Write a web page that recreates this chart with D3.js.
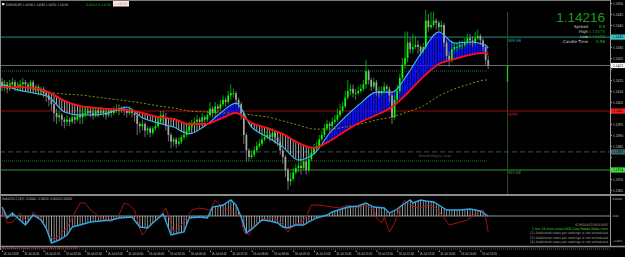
<!DOCTYPE html>
<html>
<head>
<meta charset="utf-8">
<script src="https://cdn.jsdelivr.net/npm/d3@7"></script>
<style>
  html, body { margin: 0; padding: 0; background: #000; }
  svg { display: block; font-family: 'DejaVu Sans', sans-serif; }
</style>
</head>
<body>
<div id="chart"></div>
<script>
// EURUSD M5 candles (open = previous close)
const firstOpen = 1.1414
const close = [
  1.1412,1.1413,1.1411,1.1413,1.1414,1.1412,1.1412,1.1413,1.1414,1.1413,
  1.1412,1.1414,1.1411,1.1412,1.1410,1.1411,1.1409,1.1408,1.1406,1.1404,
  1.1400,1.1398,1.1399,1.1397,1.1396,1.1397,1.1396,1.1398,1.1397,1.1399,
  1.1398,1.1400,1.1400,1.1401,1.1400,1.1399,1.1401,1.1400,1.1401,1.1400,
  1.1399,1.1401,1.1400,1.1401,1.1402,1.1401,1.1402,1.1401,1.1400,1.1401,
  1.1400,1.1399,1.1395,1.1394,1.1395,1.1392,1.1393,1.1391,1.1393,1.1394,
  1.1396,1.1399,1.1398,1.1394,1.1390,1.1387,1.1388,1.1386,1.1387,1.1389,
  1.1390,1.1392,1.1394,1.1395,1.1396,1.1397,1.1396,1.1398,1.1397,1.1399,
  1.1402,1.1400,1.1403,1.1402,1.1404,1.1406,1.1405,1.1408,1.1409,1.1409,
  1.1406,1.1404,1.1400,1.1390,1.1383,1.1380,1.1381,1.1383,1.1385,1.1386,
  1.1388,1.1389,1.1390,1.1389,1.1391,1.1389,1.1387,1.1383,1.1380,1.1374,
  1.1369,1.1370,1.1373,1.1375,1.1376,1.1375,1.1378,1.1374,1.1379,1.1382,
  1.1384,1.1385,1.1388,1.1390,1.1393,1.1395,1.1394,1.1396,1.1397,1.1399,
  1.1401,1.1403,1.1407,1.1410,1.1411,1.1409,1.1409,1.1410,1.1411,1.1413,
  1.1419,1.1415,1.1412,1.1414,1.1410,1.1409,1.1410,1.1412,1.1411,1.1408,
  1.1398,1.1406,1.1410,1.1416,1.1422,1.1425,1.1432,1.1429,1.1430,1.1431,
  1.1430,1.1428,1.1430,1.1442,1.1439,1.1440,1.1442,1.1441,1.1439,1.1440,
  1.1432,1.1426,1.1424,1.1429,1.1430,1.1430,1.1431,1.1431,1.1432,1.1434,
  1.1433,1.1432,1.1434,1.1435,1.1433,1.1430,1.1424,1.14216
]
const high = [
  1.1416,1.1415,1.1414,1.1415,1.1416,1.1415,1.1414,1.1415,1.1416,1.1415,
  1.1414,1.1415,1.1415,1.1413,1.1413,1.1412,1.1412,1.1410,1.1409,1.1407,
  1.1405,1.1402,1.1401,1.1400,1.1398,1.1399,1.1398,1.1399,1.1399,1.1401,
  1.1400,1.1403,1.1402,1.1403,1.1402,1.1401,1.1402,1.1402,1.1403,1.1402,
  1.1401,1.1402,1.1402,1.1403,1.1404,1.1404,1.1403,1.1403,1.1402,1.1403,
  1.1402,1.1401,1.1400,1.1396,1.1397,1.1396,1.1394,1.1394,1.1394,1.1396,
  1.1398,1.1401,1.1401,1.1400,1.1395,1.1391,1.1389,1.1389,1.1389,1.1390,
  1.1392,1.1394,1.1396,1.1397,1.1398,1.1399,1.1398,1.1400,1.1399,1.1401,
  1.1405,1.1403,1.1405,1.1404,1.1406,1.1408,1.1407,1.1410,1.1413,1.1411,
  1.1410,1.1407,1.1405,1.1401,1.1391,1.1384,1.1383,1.1385,1.1387,1.1388,
  1.1390,1.1391,1.1392,1.1391,1.1393,1.1392,1.1390,1.1388,1.1384,1.1381,
  1.1375,1.1373,1.1375,1.1377,1.1378,1.1379,1.1380,1.1379,1.1381,1.1384,
  1.1386,1.1387,1.1390,1.1392,1.1395,1.1397,1.1396,1.1398,1.1399,1.1402,
  1.1404,1.1405,1.1410,1.1415,1.1413,1.1413,1.1411,1.1412,1.1413,1.1415,
  1.1424,1.1420,1.1416,1.1416,1.1415,1.1412,1.1412,1.1414,1.1413,1.1412,
  1.1409,1.1408,1.1413,1.1418,1.1425,1.1437,1.1437,1.1434,1.1436,1.1435,
  1.1433,1.1431,1.1432,1.1447,1.1445,1.1446,1.1446,1.1443,1.1442,1.1442,
  1.1441,1.1433,1.1428,1.1433,1.1432,1.1432,1.1433,1.1433,1.1434,1.1436,
  1.1436,1.1435,1.1437,1.1438,1.1436,1.1434,1.1431,1.1426
]
const low = [
  1.1410,1.1410,1.1409,1.1410,1.1411,1.1410,1.1410,1.1411,1.1412,1.1411,
  1.1410,1.1411,1.1409,1.1409,1.1408,1.1408,1.1407,1.1405,1.1403,1.1401,
  1.1396,1.1395,1.1396,1.1394,1.1393,1.1394,1.1394,1.1395,1.1395,1.1396,
  1.1395,1.1395,1.1398,1.1399,1.1398,1.1397,1.1398,1.1398,1.1399,1.1398,
  1.1397,1.1398,1.1398,1.1399,1.1400,1.1399,1.1400,1.1399,1.1398,1.1399,
  1.1398,1.1396,1.1390,1.1391,1.1392,1.1389,1.1390,1.1389,1.1390,1.1392,
  1.1393,1.1395,1.1396,1.1392,1.1387,1.1384,1.1385,1.1384,1.1385,1.1386,
  1.1388,1.1389,1.1391,1.1393,1.1394,1.1395,1.1394,1.1395,1.1395,1.1396,
  1.1398,1.1398,1.1398,1.1400,1.1401,1.1403,1.1403,1.1404,1.1406,1.1407,
  1.1404,1.1402,1.1397,1.1386,1.1378,1.1378,1.1379,1.1380,1.1382,1.1384,
  1.1385,1.1387,1.1388,1.1387,1.1388,1.1386,1.1385,1.1381,1.1377,1.1371,
  1.1365,1.1367,1.1369,1.1372,1.1373,1.1372,1.1374,1.1372,1.1373,1.1378,
  1.1381,1.1383,1.1384,1.1387,1.1389,1.1392,1.1391,1.1393,1.1395,1.1396,
  1.1398,1.1400,1.1402,1.1406,1.1408,1.1407,1.1406,1.1408,1.1409,1.1410,
  1.1411,1.1413,1.1410,1.1411,1.1408,1.1407,1.1408,1.1409,1.1409,1.1405,
  1.1395,1.1397,1.1405,1.1409,1.1415,1.1420,1.1423,1.1427,1.1427,1.1429,
  1.1427,1.1426,1.1427,1.1429,1.1437,1.1438,1.1439,1.1438,1.1437,1.1437,
  1.1430,1.1424,1.1421,1.1423,1.1428,1.1428,1.1429,1.1429,1.1430,1.1431,
  1.1431,1.1430,1.1431,1.1433,1.1431,1.1428,1.1422,1.1420
]

// moving averages, read every 6 bars
const maBars = [0,6,12,18,24,30,36,42,48,54,60,66,72,78,84,90,96,102,108,114,120,126,132,138,144,150,156,162,168,174,180,186,187]
const maRed = [1.14118,1.14118,1.14114,1.14095,1.14055,1.14032,1.14023,1.14018,1.14014,1.14000,1.13982,1.13973,1.13950,1.13950,1.13973,1.14000,1.13955,1.13932,1.13905,1.13864,1.13841,1.13873,1.13918,1.13959,1.13991,1.14027,1.14091,1.14164,1.14223,1.14245,1.14264,1.14273,1.14264]
const maCyan = [1.14132,1.14105,1.14091,1.14073,1.14005,1.13991,1.13991,1.14005,1.14027,1.13977,1.13955,1.13936,1.13905,1.13941,1.14000,1.14045,1.13936,1.13891,1.13845,1.13786,1.13814,1.13909,1.13982,1.14045,1.14095,1.14095,1.14177,1.14286,1.14368,1.14318,1.14323,1.14309,1.14295]
const maSlow = [1.14141,1.14127,1.14109,1.14095,1.14086,1.14082,1.14073,1.14064,1.14055,1.14045,1.14032,1.14023,1.14009,1.14005,1.14000,1.14000,1.13991,1.13982,1.13964,1.13945,1.13927,1.13927,1.13936,1.13950,1.13968,1.13982,1.14005,1.14032,1.14077,1.14109,1.14132,1.14150,1.14150]

// oscillator pane
const oscMainBars = [0,1,2,4,6,9,12,15,17,19,22,25,27,30,34,38,42,45,50,53,56,58,62,65,68,70,72,76,79,81,85,88,90,92,94,97,100,103,106,108,110,113,116,118,121,125,127,133,137,140,143,147,149,152,154,157,158,161,163,166,168,171,176,180,184,187]
const oscMain = [0.00072,0.00032,-0.00016,0.00024,-0.00016,-0.00072,0.00008,-0.00032,-0.00096,-0.00216,-0.00192,-0.00152,-0.00088,-0.00072,-0.00048,-0.0004,-0.00032,-0.00016,-0.00008,-0.00088,-0.00096,-0.00056,0.00016,-0.00152,-0.00136,-0.00128,-0.00016,-0.00008,-0.00016,0.00072,0.00088,0.00128,0.00088,-0.00008,-0.00136,-0.00088,-0.00032,-0.0004,-0.00056,-0.00088,-0.00096,-0.00072,-0.00072,-0.00048,-0.00016,0.00008,0.00032,0.00072,0.0008,0.00104,0.00072,0.00064,0.00024,0.00056,0.00088,0.00128,0.00104,0.00128,0.0012,0.00112,0.00088,0.00048,0.00048,0.00056,0.0004,0]
const oscSigBars = [0,2,4,7,10,12,15,18,20,25,30,32,34,38,42,45,47,49,51,53,54,57,61,63,64,66,68,71,73,76,80,82,85,89,92,93,95,97,100,104,107,110,112,115,117,119,122,127,130,133,137,140,143,144,146,147,149,151,153,155,157,160,162,164,167,170,172,175,179,183,185,186,187]
const oscSignal = [0.00064,-0.00056,-0.00048,0.00024,-0.00056,0.00032,-0.00016,-0.00152,-0.00192,-0.00096,0.00104,0.00104,0.00048,-0.00016,-0.00048,0.00008,0.00104,0.00088,0.00048,-0.00096,-0.00152,-0.00072,0.00008,0.00064,0.00008,-0.00128,-0.00096,-0.00016,0.00048,0.00064,0.00048,0.00128,0.00064,0.00032,-0.00016,-0.00128,-0.00152,-0.00072,-0.00032,-0.00016,-0.00048,-0.00128,-0.00072,-0.00056,-0.00008,0.00088,0.00088,0.00072,0.00064,0.00088,0.00064,0.00088,0.00048,-0.00016,-0.00056,-0.00008,-0.00128,-0.00056,0.00064,0.00128,0.00088,0.00064,0.00072,0.00088,0.00064,-0.00016,-0.00072,-0.00056,-0.00032,0.00032,0.00048,-0.00008,-0.00128]

// levels
const levelNames = ['WR38', 'WPP', 'WS38']
const levelPrices = [1.14345, 1.14009, 1.13741]
const currentPrice = 1.14216
const yesterdayLow = 1.13823
const dottedLevels = [1.14191, 1.13782]

// time axis labels, every 8 bars
const timeBars = d3.range(0, 188, 8)
const timeLabels = ['16 Jul 2018','16 Jul 00:40','16 Jul 01:20','16 Jul 02:00','16 Jul 02:40','16 Jul 03:20',
  '16 Jul 04:00','16 Jul 04:40','16 Jul 05:20','16 Jul 06:00','16 Jul 06:40','16 Jul 07:20','16 Jul 08:00',
  '16 Jul 08:40','16 Jul 09:20','16 Jul 10:00','16 Jul 10:40','16 Jul 11:20','16 Jul 12:00','16 Jul 12:40',
  '16 Jul 13:20','16 Jul 14:00','16 Jul 14:40','16 Jul 15:20']

const newsLines = ['SCHEDULED RELEASES', '1 hrs 14 mins since USD Core Retail Sales m/m',
  '[2]  Additional news per settings is not scheduled', '[3]  Additional news per settings is not scheduled',
  '[4]  Additional news per settings is not scheduled']

const width = 625
const height = 257

const svg = d3.select('#chart').append('svg')
  .attr('width', width).attr('height', height)
  .style('background', '#000')

const x = d3.scaleLinear().domain([0, 187]).range([2, 488.2])
const y = d3.scaleLinear().domain([1.1365, 1.1450]).range([190, 3])
const yOsc = d3.scaleLinear().domain([-0.00232, 0.0016]).range([245, 196])

const defs = svg.append('defs')
defs.append('clipPath').attr('id', 'mainClip')
  .append('rect').attr('x', 1).attr('y', 1).attr('width', 609).attr('height', 193)

function stripes(id, color, w) {
  const step = x(1) - x(0)
  const p = defs.append('pattern').attr('id', id)
    .attr('patternUnits', 'userSpaceOnUse')
    .attr('x', x(0) - w / 2).attr('y', 0)
    .attr('width', step).attr('height', 4)
  p.append('rect').attr('width', w).attr('height', 4).attr('fill', color)
}
stripes('upHatch', '#0d0dff', 1.9)
stripes('dnHatch', '#b2bccb', 0.9)
stripes('oscHatch', '#c4c4c4', 0.7)

const main = svg.append('g').attr('clip-path', 'url(#mainClip)')

// horizontal levels
main.append('line')
  .attr('x1', 0).attr('x2', 610)
  .attr('y1', y(levelPrices[0])).attr('y2', y(levelPrices[0]))
  .attr('stroke', '#1f8f8f').attr('stroke-width', 1)
main.append('line')
  .attr('x1', 0).attr('x2', 610)
  .attr('y1', y(levelPrices[1])).attr('y2', y(levelPrices[1]))
  .attr('stroke', '#9c0c0c').attr('stroke-width', 1)
main.append('line')
  .attr('x1', 0).attr('x2', 610)
  .attr('y1', y(levelPrices[2])).attr('y2', y(levelPrices[2]))
  .attr('stroke', '#1c4a1c').attr('stroke-width', 2)
main.append('line')
  .attr('x1', 0).attr('x2', 610)
  .attr('y1', y(currentPrice)).attr('y2', y(currentPrice))
  .attr('stroke', '#6e6e6e').attr('stroke-width', 1)
main.append('line')
  .attr('x1', 0).attr('x2', 610)
  .attr('y1', y(yesterdayLow)).attr('y2', y(yesterdayLow))
  .attr('stroke', '#2c4242').attr('stroke-width', 1.3)
  .attr('stroke-dasharray', '5,3')
main.append('line')
  .attr('x1', 0).attr('x2', x(187))
  .attr('y1', y(dottedLevels[0])).attr('y2', y(dottedLevels[0]))
  .attr('stroke', '#1e6464').attr('stroke-width', 1.2)
  .attr('stroke-dasharray', '1,1')
main.append('line')
  .attr('x1', 0).attr('x2', x(187))
  .attr('y1', y(dottedLevels[1])).attr('y2', y(dottedLevels[1]))
  .attr('stroke', '#2a6a2a').attr('stroke-width', 1)
  .attr('stroke-dasharray', '1,1')

// vertical marker
main.append('line')
  .attr('x1', 507.5).attr('x2', 507.5).attr('y1', 12).attr('y2', 194)
  .attr('stroke', '#264a26').attr('stroke-width', 1)
main.append('line')
  .attr('x1', 507.5).attr('x2', 507.5).attr('y1', y(currentPrice)).attr('y2', 82)
  .attr('stroke', '#1fcf1f').attr('stroke-width', 1.3)

// level labels
const levelColors = ['#2a9a9a', '#b01818', '#2f8a2f']
main.selectAll('.level-label')
  .data(levelNames)
  .enter()
  .append('text')
  .attr('class', 'level-label')
  .attr('x', 508)
  .attr('y', (d, i) => y(levelPrices[i]) + 4.5)
  .attr('font-size', 4.4)
  .attr('fill', (d, i) => levelColors[i])
  .text(d => d)

main.append('text')
  .attr('x', 418).attr('y', y(yesterdayLow) + 4.8)
  .attr('font-size', 3.6).attr('fill', '#4a5c5c')
  .attr('textLength', 33).attr('lengthAdjust', 'spacingAndGlyphs')
  .text('Yesterdays Low')

// MA band
const maRows = maBars.map((b, i) => ({ b, red: maRed[i], cyan: maCyan[i], slow: maSlow[i] }))
const curve = d3.curveMonotoneX

defs.append('clipPath').attr('id', 'aboveRed').append('path')
  .attr('d', d3.area().x(d => x(d.b)).y0(0).y1(d => y(d.red)).curve(curve)(maRows))
defs.append('clipPath').attr('id', 'belowRed').append('path')
  .attr('d', d3.area().x(d => x(d.b)).y0(200).y1(d => y(d.red)).curve(curve)(maRows))

const band = d3.area().x(d => x(d.b)).y0(d => y(d.red)).y1(d => y(d.cyan)).curve(curve)
main.append('g').attr('clip-path', 'url(#aboveRed)')
  .append('path').attr('d', band(maRows)).attr('fill', 'url(#upHatch)')
main.append('g').attr('clip-path', 'url(#belowRed)')
  .append('path').attr('d', band(maRows)).attr('fill', 'url(#dnHatch)')

// candles
const bars = close.map((c, i) => ({ i, o: i ? close[i - 1] : firstOpen, c, h: high[i], l: low[i] }))

main.selectAll('.wick')
  .data(bars)
  .enter()
  .append('line')
  .attr('class', 'wick')
  .attr('x1', d => x(d.i)).attr('x2', d => x(d.i))
  .attr('y1', d => y(d.h)).attr('y2', d => y(d.l))
  .attr('stroke', d => d.c >= d.o ? '#00b400' : '#7a7a7a')
  .attr('stroke-width', 0.9)

main.selectAll('.body')
  .data(bars)
  .enter()
  .append('rect')
  .attr('class', 'body')
  .attr('x', d => x(d.i) - 0.85)
  .attr('width', 1.7)
  .attr('y', d => y(Math.max(d.o, d.c)))
  .attr('height', d => Math.max(0.8, Math.abs(y(d.o) - y(d.c))))
  .attr('fill', d => d.c >= d.o ? '#00ff00' : '#a6a6a6')

// MA lines
main.append('path')
  .datum(maRows)
  .attr('d', d3.line().x(d => x(d.b)).y(d => y(d.slow)).curve(curve))
  .attr('fill', 'none').attr('stroke', '#8f8f10').attr('stroke-width', 1)
  .attr('stroke-dasharray', '2,2')

main.append('path')
  .datum(maRows)
  .attr('d', d3.line().x(d => x(d.b)).y(d => y(d.cyan)).curve(curve))
  .attr('fill', 'none').attr('stroke', '#45bdf0').attr('stroke-width', 1.1)

main.append('path')
  .datum(maRows)
  .attr('d', d3.line().x(d => x(d.b)).y(d => y(d.red)).curve(curve))
  .attr('fill', 'none').attr('stroke', '#ff1010').attr('stroke-width', 1.8)

// header text
svg.append('rect').attr('x', 2).attr('y', 3).attr('width', 2.4).attr('height', 2.2).attr('fill', '#e0e0e0')
svg.append('text')
  .attr('x', 6).attr('y', 5.6)
  .attr('font-size', 3.4).attr('fill', '#c8c8c8')
  .attr('textLength', 62).attr('lengthAdjust', 'spacingAndGlyphs')
  .text('EURUSD,M5  1.14260 1.14260 1.14251 1.14216')
svg.append('text')
  .attr('x', 86).attr('y', 5.6)
  .attr('font-size', 3.4).attr('fill', '#0fbf0f')
  .attr('textLength', 25).attr('lengthAdjust', 'spacingAndGlyphs')
  .text('0.0012%  14:36')
svg.append('rect').attr('x', 113).attr('y', 1).attr('width', 16).attr('height', 5.5).attr('fill', '#f4e8e8')
svg.append('text')
  .attr('x', 115).attr('y', 5.4)
  .attr('font-size', 3.4).attr('fill', '#e07070')
  .attr('textLength', 12).attr('lengthAdjust', 'spacingAndGlyphs')
  .text('1.14216')

// info panel
svg.append('text')
  .attr('x', 605).attr('y', 22).attr('text-anchor', 'end')
  .attr('font-size', 13.5).attr('fill', '#1f9a1f')
  .attr('font-family', 'Liberation Sans, Arial, sans-serif')
  .text(d3.format('.5f')(currentPrice))

const infoLabels = ['Spread', 'High', 'Low', 'Candle Time']
const infoValues = ['0.9', '1.14474', '1.13652', '0:56']
const infoColors = ['#20d020', '#2a8a2a', '#2a8a2a', '#20c020']
const info = svg.append('g')
info.selectAll('.info-label')
  .data(infoLabels)
  .enter()
  .append('text')
  .attr('class', 'info-label')
  .attr('x', 588).attr('y', (d, i) => 27.5 + i * 5.2)
  .attr('text-anchor', 'end')
  .attr('font-size', 4).attr('fill', '#d0d0d0')
  .text(d => d)
info.selectAll('.info-value')
  .data(infoValues)
  .enter()
  .append('text')
  .attr('class', 'info-value')
  .attr('x', 605).attr('y', (d, i) => 27.5 + i * 5.2)
  .attr('text-anchor', 'end')
  .attr('font-size', 4).attr('fill', (d, i) => infoColors[i])
  .text(d => d)

// highlighted price tags (drawn over the axis labels they cover)
const tagPrices = [levelPrices[0], currentPrice, levelPrices[1], yesterdayLow, levelPrices[2]]
const tagFills = ['#2ec8c8', '#f2f2f2', '#ff1a1a', '#3e6a6a', '#3fe03f']

// price axis
const yAxis = d3.axisRight(y)
  .tickValues(d3.range(1.1365, 1.14501, 0.0005))
  .tickFormat(d3.format('.4f'))
  .tickSize(2)

svg.append('g')
  .attr('class', 'axis y-axis')
  .attr('transform', 'translate(610,0)')
  .call(yAxis)
  .call(g => g.select('.domain').attr('stroke', '#9a9a9a').attr('d', 'M0.5,0V247'))
  .call(g => g.selectAll('line').attr('stroke', '#9a9a9a'))
  .call(g => g.selectAll('text')
    .attr('fill', '#c8c8c8').attr('font-size', 3.6).attr('x', 3)
    .attr('textLength', 10).attr('lengthAdjust', 'spacingAndGlyphs'))
  .call(g => g.selectAll('.tick')
    .filter(d => tagPrices.some(p => Math.abs(y(p) - y(d)) < 5.5))
    .select('text').remove())

const tags = svg.append('g')
tags.selectAll('rect')
  .data(tagPrices)
  .enter()
  .append('rect')
  .attr('x', 611).attr('y', d => y(d) - 2.6)
  .attr('width', 14).attr('height', 5.2)
  .attr('fill', (d, i) => tagFills[i])
tags.selectAll('text')
  .data(tagPrices)
  .enter()
  .append('text')
  .attr('x', 613).attr('y', d => y(d) + 1.3)
  .attr('font-size', 3.6).attr('fill', '#000')
  .attr('textLength', 10).attr('lengthAdjust', 'spacingAndGlyphs')
  .text(d => d3.format('.4f')(d))

// frame lines
svg.append('line').attr('x1', 0).attr('x2', 610).attr('y1', 0.5).attr('y2', 0.5).attr('stroke', '#7a7a7a')
svg.append('line').attr('x1', 0.5).attr('x2', 0.5).attr('y1', 0).attr('y2', 250).attr('stroke', '#8a8a8a')
svg.append('line').attr('x1', 0).attr('x2', 625).attr('y1', 195).attr('y2', 195).attr('stroke', '#8c8c8c').attr('stroke-width', 2)
svg.append('line').attr('x1', 0).attr('x2', 625).attr('y1', 246.5).attr('y2', 246.5).attr('stroke', '#8c8c8c').attr('stroke-width', 1.5)

// oscillator pane
const osc = svg.append('g')
const mainRows = oscMainBars.map((b, i) => ({ b, v: oscMain[i] }))
const sigRows = oscSigBars.map((b, i) => ({ b, v: oscSignal[i] }))

osc.append('path')
  .attr('d', d3.area().x(d => x(d.b)).y0(yOsc(0)).y1(d => yOsc(d.v))(mainRows))
  .attr('fill', 'url(#oscHatch)')
osc.append('line')
  .attr('x1', 0).attr('x2', 610).attr('y1', yOsc(0)).attr('y2', yOsc(0))
  .attr('stroke', '#b8b8b8').attr('stroke-width', 0.8)
osc.append('path')
  .datum(sigRows)
  .attr('d', d3.line().x(d => x(d.b)).y(d => yOsc(d.v)))
  .attr('fill', 'none').attr('stroke', '#a01414').attr('stroke-width', 1)
osc.append('path')
  .datum(mainRows)
  .attr('d', d3.line().x(d => x(d.b)).y(d => yOsc(d.v)))
  .attr('fill', 'none').attr('stroke', '#2aa8e8').attr('stroke-width', 1.4)

osc.append('text')
  .attr('x', 2).attr('y', 199.5)
  .attr('font-size', 3.6).attr('fill', '#c0c0c0')
  .attr('textLength', 70).attr('lengthAdjust', 'spacingAndGlyphs')
  .text('OsMACD(12,26,9) -0.00041 -0.00019 -0.00010 0.00000')

const oscTicks = [0.0016, 0, -0.00232]
osc.selectAll('.osc-tick')
  .data(oscTicks)
  .enter()
  .append('text')
  .attr('class', 'osc-tick')
  .attr('x', 612.5)
  .attr('y', d => Math.min(241.5, Math.max(199.5, yOsc(d) + 1.3)))
  .attr('font-size', 2.9).attr('fill', '#c8c8c8')
  .attr('textLength', d => d === 0 ? 6 : 9.5).attr('lengthAdjust', 'spacingAndGlyphs')
  .text(d => d === 0 ? '0.00' : d3.format('.4f')(d))

// news block
const newsColors = ['#d08a8a', '#22e022', '#a8a8a8', '#a8a8a8', '#a8a8a8']
const newsWidths = [33, 76, 78, 78, 78]
osc.selectAll('.news')
  .data(newsLines)
  .enter()
  .append('text')
  .attr('class', 'news')
  .attr('x', 608)
  .attr('y', (d, i) => 225.5 + i * 4.4)
  .attr('text-anchor', 'end')
  .attr('font-size', 3.4)
  .attr('fill', (d, i) => newsColors[i])
  .attr('textLength', (d, i) => newsWidths[i]).attr('lengthAdjust', 'spacingAndGlyphs')
  .text(d => d)

// thin strip under oscillator
svg.append('line')
  .attr('x1', 1).attr('x2', 610).attr('y1', 249).attr('y2', 249)
  .attr('stroke', '#7a5050').attr('stroke-width', 1.2).attr('stroke-dasharray', '1,1')
svg.append('text')
  .attr('x', 2).attr('y', 249.4)
  .attr('font-size', 2.8).attr('fill', '#c06060')
  .attr('textLength', 75).attr('lengthAdjust', 'spacingAndGlyphs')
  .text('Bulls/Bears Power (13) 0.00 0.00 0.00 0.00 0.00')

// time axis
const xAxis = d3.axisBottom(x)
  .tickValues(timeBars)
  .tickFormat((d, i) => timeLabels[i])
  .tickSize(1.5)

svg.append('g')
  .attr('class', 'axis x-axis')
  .attr('transform', 'translate(0,250.5)')
  .call(xAxis)
  .call(g => g.select('.domain').remove())
  .call(g => g.selectAll('line').attr('stroke', '#9a9a9a'))
  .call(g => g.selectAll('text')
    .attr('fill', '#c8c8c8').attr('font-size', 3.2)
    .attr('text-anchor', 'start').attr('dx', 1).attr('y', 2.2)
    .attr('textLength', 15).attr('lengthAdjust', 'spacingAndGlyphs'))
</script>
</body>
</html>
